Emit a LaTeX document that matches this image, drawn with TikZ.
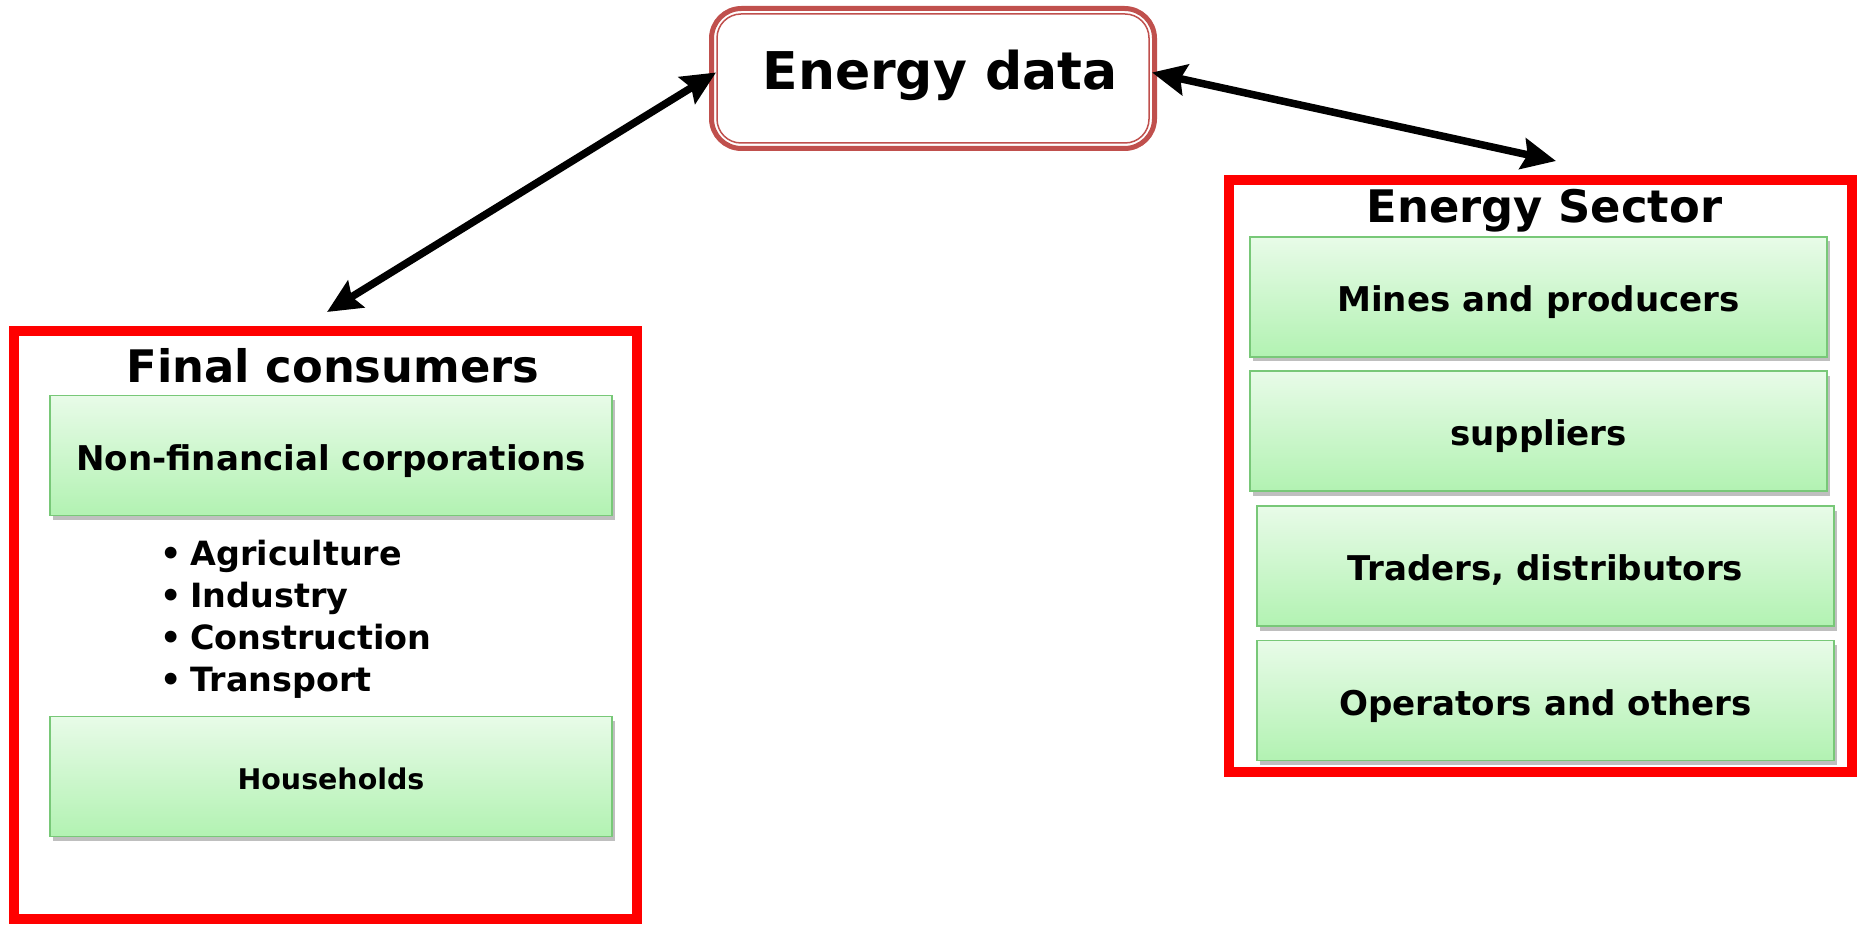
\documentclass[tikz,border=0pt]{standalone}
\usepackage{fontspec}
\setmainfont{DejaVu Sans}
\usetikzlibrary{%
  arrows.meta,%
  shadows,% drop shadow of the green boxes
  positioning%
}
\definecolor{edred}{HTML}{C0504D}
\definecolor{boxtop}{HTML}{E8FBE8}
\definecolor{boxbot}{HTML}{B2F2B2}
\definecolor{boxline}{HTML}{78C878}

\begin{document}
\begin{tikzpicture}
  [
  font=\bfseries, line width=1pt,
  panel/.style={rectangle, draw=red, line width=0.1cm, minimum width=6.23cm, inner sep=0pt},
  heading/.style={anchor=base, inner sep=0pt, font=\fontsize{12.75}{15}\selectfont\bfseries},
  hub/.style={rectangle, rounded corners=0.3cm, draw=edred, line width=0.05cm, minimum width=4.43cm, minimum height=1.4cm, fill=white, text height=0.65em, text depth=0pt, font=\fontsize{14.8}{17}\selectfont\bfseries},
  unit/.style={rectangle, minimum height=1.2cm, minimum width=5.77cm, draw=boxline, line width=0.4pt, top color=boxtop, bottom color=boxbot, drop shadow={shadow xshift=0.03cm, shadow yshift=-0.045cm, fill=black, opacity=0.25}, text height=0.85em, text depth=0pt, font=\fontsize{9.7}{12}\selectfont\bfseries},
  link/.style={line width=0.075cm, {Stealth[length=0.34cm,width=0.31cm,inset=0.05cm]}-{Stealth[length=0.34cm,width=0.31cm,inset=0.05cm]}}
  ]

\useasboundingbox (0,0) rectangle (18.6,-9.27);

\node[hub] (ed) at (9.33,-0.785) {\hspace*{0.14cm}Energy data};
\draw[edred, line width=0.015cm, rounded corners=0.24cm] ([shift={(0.08,-0.08)}]ed.north west) rectangle ([shift={(-0.08,0.08)}]ed.south east);

\node[panel, minimum height=5.88cm] (fc) at (3.255,-6.25) {};
\node[heading] (fct) at (3.33,-3.82) {Final consumers};
\node[unit, minimum width=5.62cm] (nfc) at (3.31,-4.555) {Non-financial corporations};
\node[anchor=west, align=left, inner sep=0pt, font=\fontsize{9.5}{11.95}\selectfont\bfseries] (ind) at (1.59,-6.195) {•\hspace{0.25em}Agriculture\\•\hspace{0.25em}Industry\\•\hspace{0.25em}Construction\\•\hspace{0.25em}Transport};
\node[unit, minimum width=5.62cm, text height=0.76em, font=\fontsize{8.1}{10}\selectfont\bfseries] (hh) at (3.31,-7.765) {Households};

\node[panel, minimum height=5.92cm] (es) at (15.405,-4.76) {};
\node[heading] (est) at (15.445,-2.23) {Energy Sector};
\foreach \n/\x/\y/\t in {mp/15.385/2.97/Mines and producers, sp/15.385/4.31/suppliers, td/15.455/5.66/{Traders, distributors}, oo/15.455/7.005/Operators and others} {
  \node[unit] (\n) at (\x,-\y) {\t};
}

\draw[link] ([shift={(0.07,0.06)}]ed.west) -- ([shift={(0.015,0.14)}]fc.north);
\draw[link] ([shift={(-0.05,0.06)}]ed.east) -- ([shift={(0.155,0.14)}]es.north);
\end{tikzpicture}
\end{document}
